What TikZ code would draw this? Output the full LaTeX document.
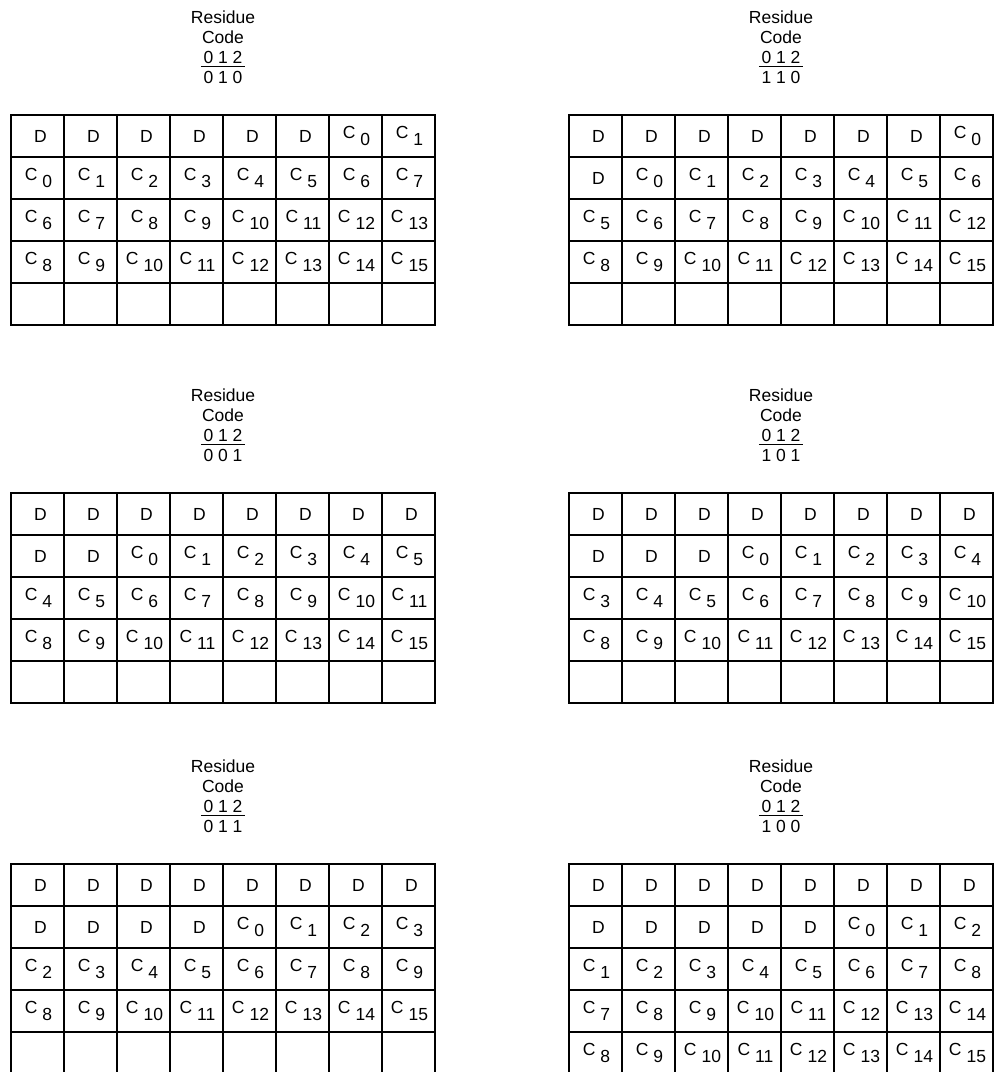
\documentclass[tikz,border=0pt]{standalone}
\usepackage{fontspec}
\setmainfont{Liberation Sans}
\newcommand\fs{\fontsize{17.5}{20}\selectfont}
\newcommand\cc[1]{C\kern5pt\raisebox{-7.5pt}{#1}}
\def\dlab{D}
\newcommand\cell[1]{\edef\celltmp{#1}\ifx\celltmp\dlab\kern6pt D\else\kern2pt\cc{\celltmp}\fi}
\tikzset{
  cl/.style={draw,line width=2pt,minimum width=53pt,minimum height=42pt,inner sep=0pt,font=\fs},
  ttl/.style={inner sep=0pt,font=\fs},
  rl/.style={line width=1pt},
}
% one row of a table: name, x0, y0, row, labels
\newcommand\trow[5]{%
  \foreach \lab [count=\col] in {#5}
    \node[cl] (#1-#4-\col) at ({#2+53*(\col-.5)},{#3+42*(#4-.5)}) {\cell{\lab}};}
% empty last row
\newcommand\brow[3]{%
  \foreach \col in {1,...,8}
    \node[cl] (#1-5-\col) at ({#2+53*(\col-.5)},{#3+42*4.5}) {};}
% heading above a table: name, x0, y0, code
\newcommand\ttitle[4]{%
  \node[ttl] (#1-res) at (#2+212,#3-98) {Residue};
  \node[ttl] (#1-cod) at (#2+212,#3-78) {Code};
  \node[ttl] (#1-bits) at (#2+212,#3-58) {0 1 2};
  \node[ttl] (#1-val) at (#2+212,#3-38) {#4};
  \draw[rl] ([xshift=-2.5pt,yshift=-3.5pt]#1-bits.south west) -- ([xshift=2.5pt,yshift=-3.5pt]#1-bits.south east);}

\begin{document}
\begin{tikzpicture}[x=1pt,y=-1pt]
  \useasboundingbox (0,0) rectangle (997,1072);

  % code 010
  \ttitle{ta}{11}{115}{0 1 0}
  \trow{ta}{11}{115}{1}{D,D,D,D,D,D,0,1}
  \trow{ta}{11}{115}{2}{0,1,2,3,4,5,6,7}
  \trow{ta}{11}{115}{3}{6,7,8,9,10,11,12,13}
  \trow{ta}{11}{115}{4}{8,9,10,11,12,13,14,15}
  \brow{ta}{11}{115}

  % code 110
  \ttitle{tb}{569}{115}{1 1 0}
  \trow{tb}{569}{115}{1}{D,D,D,D,D,D,D,0}
  \trow{tb}{569}{115}{2}{D,0,1,2,3,4,5,6}
  \trow{tb}{569}{115}{3}{5,6,7,8,9,10,11,12}
  \trow{tb}{569}{115}{4}{8,9,10,11,12,13,14,15}
  \brow{tb}{569}{115}

  % code 001
  \ttitle{tc}{11}{493}{0 0 1}
  \trow{tc}{11}{493}{1}{D,D,D,D,D,D,D,D}
  \trow{tc}{11}{493}{2}{D,D,0,1,2,3,4,5}
  \trow{tc}{11}{493}{3}{4,5,6,7,8,9,10,11}
  \trow{tc}{11}{493}{4}{8,9,10,11,12,13,14,15}
  \brow{tc}{11}{493}

  % code 101
  \ttitle{td}{569}{493}{1 0 1}
  \trow{td}{569}{493}{1}{D,D,D,D,D,D,D,D}
  \trow{td}{569}{493}{2}{D,D,D,0,1,2,3,4}
  \trow{td}{569}{493}{3}{3,4,5,6,7,8,9,10}
  \trow{td}{569}{493}{4}{8,9,10,11,12,13,14,15}
  \brow{td}{569}{493}

  % code 011
  \ttitle{te}{11}{864}{0 1 1}
  \trow{te}{11}{864}{1}{D,D,D,D,D,D,D,D}
  \trow{te}{11}{864}{2}{D,D,D,D,0,1,2,3}
  \trow{te}{11}{864}{3}{2,3,4,5,6,7,8,9}
  \trow{te}{11}{864}{4}{8,9,10,11,12,13,14,15}
  \brow{te}{11}{864}

  % code 100
  \ttitle{tf}{569}{864}{1 0 0}
  \trow{tf}{569}{864}{1}{D,D,D,D,D,D,D,D}
  \trow{tf}{569}{864}{2}{D,D,D,D,D,0,1,2}
  \trow{tf}{569}{864}{3}{1,2,3,4,5,6,7,8}
  \trow{tf}{569}{864}{4}{7,8,9,10,11,12,13,14}
  \trow{tf}{569}{864}{5}{8,9,10,11,12,13,14,15}
\end{tikzpicture}
\end{document}
